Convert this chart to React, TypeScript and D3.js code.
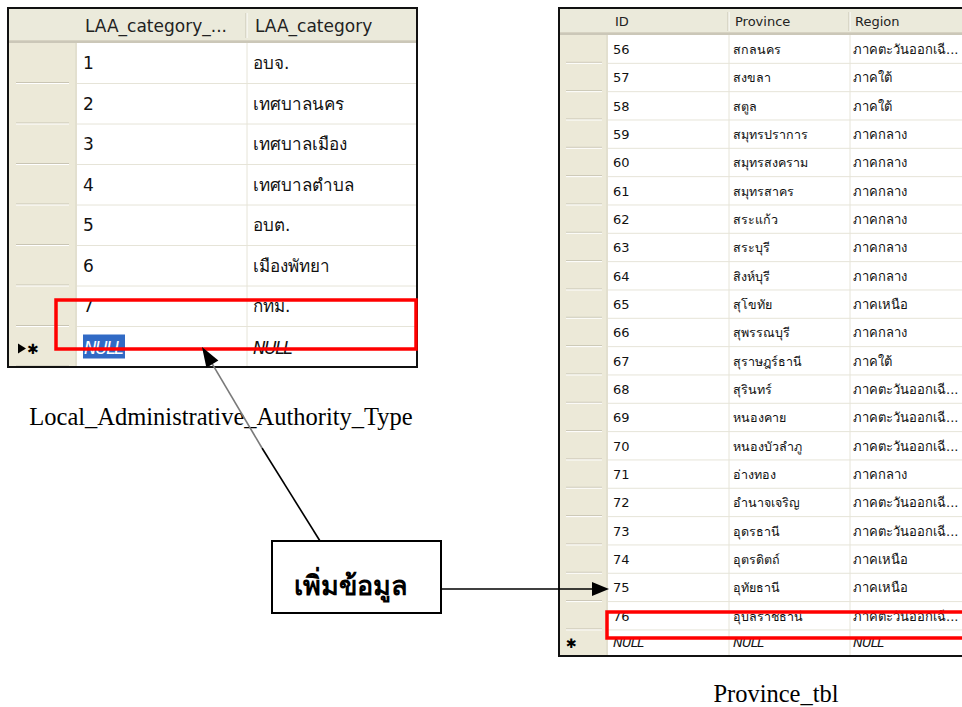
import * as d3 from "d3";

// left table: Local_Administrative_Authority_Type
const laaHeaders = ["LAA_category_...", "LAA_category"];
const laaIds = ["1", "2", "3", "4", "5", "6", "7"];
const laaNames = ["อบจ.", "เทศบาลนคร", "เทศบาลเมือง", "เทศบาลตำบล", "อบต.", "เมืองพัทยา", "กทม."];

// right table: Province_tbl
const provHeaders = ["ID", "Province", "Region"];
const provIds = ["56", "57", "58", "59", "60", "61", "62", "63", "64", "65", "66",
  "67", "68", "69", "70", "71", "72", "73", "74", "75", "76"];
const provNames = ["สกลนคร", "สงขลา", "สตูล", "สมุทรปราการ", "สมุทรสงคราม", "สมุทรสาคร",
  "สระแก้ว", "สระบุรี", "สิงห์บุรี", "สุโขทัย", "สุพรรณบุรี", "สุราษฎร์ธานี", "สุรินทร์",
  "หนองคาย", "หนองบัวลำภู", "อ่างทอง", "อำนาจเจริญ", "อุดรธานี", "อุตรดิตถ์", "อุทัยธานี",
  "อุบลราชธานี"];
const NE = "ภาคตะวันออกเฉี...";
const provRegions = [NE, "ภาคใต้", "ภาคใต้", "ภาคกลาง", "ภาคกลาง", "ภาคกลาง", "ภาคกลาง",
  "ภาคกลาง", "ภาคกลาง", "ภาคเหนือ", "ภาคกลาง", "ภาคใต้", NE, NE, NE, "ภาคกลาง", NE, NE,
  "ภาคเหนือ", "ภาคเหนือ", NE];

const leftCaption = "Local_Administrative_Authority_Type";
const rightCaption = "Province_tbl";
const boxLabel = "เพิ่มข้อมูล";

const UI = "Tahoma, 'DejaVu Sans', sans-serif";
const SERIF = "'Liberation Serif', 'Times New Roman', serif";
const HEAD_BG = "#EBEADB";
const ROWHEAD_BG = "#ECE9D8";
const GRID = "#E6E4D8";

function arrowHead(tip: [number, number], from: [number, number], len = 20, half = 7) {
  const dx = tip[0] - from[0], dy = tip[1] - from[1];
  const l = Math.hypot(dx, dy);
  const ux = dx / l, uy = dy / l;
  const bx = tip[0] - ux * len, by = tip[1] - uy * len;
  const p = d3.path();
  p.moveTo(tip[0], tip[1]);
  p.lineTo(bx - uy * half, by + ux * half);
  p.lineTo(bx + uy * half, by - ux * half);
  p.closePath();
  return p.toString();
}

function LeftTable() {
  const x0 = 8, x1 = 417, y0 = 8, headB = 43, yEnd = 367;
  const rowHeadR = 77, colDiv = 247;
  const rows = d3.scaleBand<number>().domain(d3.range(laaIds.length + 1)).range([headB, yEnd]);
  const bw = rows.bandwidth();
  return (
    <g>
      <rect x={x0} y={y0} width={x1 - x0} height={yEnd - y0} fill="#fff" />
      <rect x={x0} y={y0} width={x1 - x0} height={headB - y0} fill={HEAD_BG} />
      <line x1={x0} x2={x1} y1={headB - 2.5} y2={headB - 2.5} stroke="#D6D2C2" strokeWidth={1} />
      <line x1={x0} x2={x1} y1={headB - 1} y2={headB - 1} stroke="#CBC7B8" strokeWidth={2} />
      <rect x={x0} y={headB} width={rowHeadR - x0} height={yEnd - headB} fill={ROWHEAD_BG} />
      <line x1={rowHeadR - 1} x2={rowHeadR - 1} y1={headB} y2={yEnd} stroke="#D9D6C6" />
      <line x1={colDiv - 1} x2={colDiv - 1} y1={13} y2={38} stroke="#C7C5B2" />
      <line x1={colDiv} x2={colDiv} y1={13} y2={38} stroke="#fff" />
      <line x1={colDiv} x2={colDiv} y1={headB} y2={yEnd} stroke={GRID} />
      {rows.domain().map((i) => {
        const yb = (rows(i) as number) + bw;
        return (
          <g key={i}>
            <line x1={rowHeadR} x2={x1} y1={yb} y2={yb} stroke={GRID} />
            <line x1={16} x2={69} y1={yb - 1} y2={yb - 1} stroke="#C9C5B4" />
            <line x1={16} x2={69} y1={yb} y2={yb} stroke="#fff" />
          </g>
        );
      })}
      <text x={85} y={32} fontFamily={UI} fontSize={17} fill="#222">{laaHeaders[0]}</text>
      <text x={255} y={32} fontFamily={UI} fontSize={17} fill="#222">{laaHeaders[1]}</text>
      {laaIds.map((id, i) => {
        const yc = (rows(i) as number) + bw / 2 + 6;
        return (
          <g key={id}>
            <text x={83} y={yc} fontFamily={UI} fontSize={17} fill="#111">{id}</text>
            <text x={253} y={yc} fontFamily={UI} fontSize={17} fill="#111">{laaNames[i]}</text>
          </g>
        );
      })}
      {(() => {
        const i = laaIds.length;
        const yt = rows(i) as number;
        return (
          <g>
            <rect x={83} y={yt + 8} width={42} height={24} fill="#316AC5" />
            <text x={84} y={yt + 27} fontFamily={UI} fontSize={17} fontStyle="italic" letterSpacing={-1.5} fill="#fff">NULL</text>
            <text x={253} y={yt + 27} fontFamily={UI} fontSize={17} fontStyle="italic" letterSpacing={-1.5} fill="#111">NULL</text>
            <path d={arrowHead([26, yt + 22], [17, yt + 22], 8, 5)} fill="#000" />
            <text x={27} y={yt + 27} fontFamily="'DejaVu Sans', sans-serif" fontSize={14} fontWeight="bold" fill="#000">✱</text>
          </g>
        );
      })()}
      <rect x={x0} y={y0} width={x1 - x0} height={yEnd - y0} fill="none" stroke="#111" strokeWidth={2} />
      <rect x={56} y={300} width={360} height={49} fill="none" stroke="#FF0000" strokeWidth={3.5} />
    </g>
  );
}

function RightTable() {
  const x0 = 559, x1 = 975, y0 = 8, headB = 35, yEnd = 656;
  const rowHeadR = 608;
  const colX = [729, 850];
  const n = provIds.length + 1;
  const rows = d3.scaleBand<number>().domain(d3.range(n)).range([headB, headB + n * 28.33]);
  const bw = rows.bandwidth();
  const textX = [613, 733, 853];
  return (
    <g>
      <defs>
        <clipPath id="rclip">
          <rect x={x0} y={y0} width={x1 - x0} height={yEnd - y0} />
        </clipPath>
      </defs>
      <g clipPath="url(#rclip)">
        <rect x={x0} y={y0} width={x1 - x0} height={yEnd - y0} fill="#fff" />
        <rect x={x0} y={y0} width={x1 - x0} height={headB - y0} fill={HEAD_BG} />
        <line x1={x0} x2={x1} y1={headB - 2.5} y2={headB - 2.5} stroke="#D6D2C2" />
        <line x1={x0} x2={x1} y1={headB - 1} y2={headB - 1} stroke="#CBC7B8" strokeWidth={2} />
        <rect x={x0} y={headB} width={rowHeadR - x0} height={yEnd - headB} fill={ROWHEAD_BG} />
        <line x1={rowHeadR - 1} x2={rowHeadR - 1} y1={headB} y2={yEnd} stroke="#D9D6C6" />
        {colX.map((cx) => (
          <g key={cx}>
            <line x1={cx - 1} x2={cx - 1} y1={12} y2={31} stroke="#C7C5B2" />
            <line x1={cx} x2={cx} y1={12} y2={31} stroke="#fff" />
            <line x1={cx} x2={cx} y1={headB} y2={yEnd} stroke={GRID} />
          </g>
        ))}
        {rows.domain().map((i) => {
          const yb = (rows(i) as number) + bw;
          return (
            <g key={i}>
              <line x1={rowHeadR} x2={x1} y1={yb} y2={yb} stroke={GRID} />
              <line x1={566} x2={602} y1={yb - 1} y2={yb - 1} stroke="#C9C5B4" />
              <line x1={566} x2={602} y1={yb} y2={yb} stroke="#fff" />
            </g>
          );
        })}
        {provHeaders.map((h, k) => (
          <text key={h} x={textX[k] + 2} y={26} fontFamily={UI} fontSize={13} fill="#222">{h}</text>
        ))}
        {provIds.map((id, i) => {
          const yc = (rows(i) as number) + bw / 2 + 5;
          return (
            <g key={id}>
              <text x={textX[0]} y={yc} fontFamily={UI} fontSize={13} fill="#111">{id}</text>
              <text x={textX[1]} y={yc} fontFamily={UI} fontSize={12.5} fill="#111">{provNames[i]}</text>
              <text x={textX[2]} y={yc} fontFamily={UI} fontSize={13} fill="#111">{provRegions[i]}</text>
            </g>
          );
        })}
        {(() => {
          const yc = (rows(n - 1) as number) + bw / 2 + 3;
          return (
            <g>
              {textX.map((tx) => (
                <text key={tx} x={tx} y={yc} fontFamily={UI} fontSize={13} fontStyle="italic" letterSpacing={-0.8} fill="#111">NULL</text>
              ))}
              <text x={566} y={yc + 1} fontFamily="'DejaVu Sans', sans-serif" fontSize={13} fill="#000">✱</text>
            </g>
          );
        })()}
      </g>
      <path d={`M${x1},${y0}H${x0}V${yEnd}H${x1}`} fill="none" stroke="#111" strokeWidth={2} />
      <rect x={607} y={612} width={370} height={26} fill="none" stroke="#FF0000" strokeWidth={3.5} />
    </g>
  );
}

export default function App() {
  const box = { x: 272, y: 541, w: 169, h: 72 };
  const tip1: [number, number] = [202, 347];
  const start1: [number, number] = [320, box.y];
  const mid1: [number, number] = [262, 448];
  const tip2: [number, number] = [609, 589];
  const start2: [number, number] = [box.x + box.w, 589];
  const dir = [tip1[0] - start1[0], tip1[1] - start1[1]];
  const len = Math.hypot(dir[0], dir[1]);
  const base1: [number, number] = [tip1[0] - (dir[0] / len) * 18, tip1[1] - (dir[1] / len) * 18];
  return (
    <svg width={962} height={707} style={{ position: "absolute", left: 0, top: 0, display: "block" }}>
      <rect width={962} height={707} fill="#fff" />
      <LeftTable />
      <RightTable />

      <text x={221} y={425} textAnchor="middle" fontFamily={SERIF} fontSize={24.5} fill="#000">{leftCaption}</text>
      <text x={776} y={702} textAnchor="middle" fontFamily={SERIF} fontSize={24.5} fill="#000">{rightCaption}</text>

      <rect x={box.x} y={box.y} width={box.w} height={box.h} fill="#fff" stroke="#000" strokeWidth={2} />
      <text x={box.x + box.w / 2 - 6} y={595} textAnchor="middle" fontFamily={SERIF} fontSize={27} fontWeight="bold" fill="#000">{boxLabel}</text>

      <line x1={start1[0]} y1={start1[1]} x2={mid1[0]} y2={mid1[1]} stroke="#000" strokeWidth={1.6} />
      <line x1={mid1[0]} y1={mid1[1]} x2={base1[0]} y2={base1[1]} stroke="#7a7a7a" strokeWidth={1.6} />
      <path d={arrowHead(tip1, start1, 20, 7)} fill="#000" />

      <line x1={start2[0]} y1={start2[1]} x2={tip2[0] - 16} y2={tip2[1]} stroke="#000" strokeWidth={1.6} />
      <path d={arrowHead(tip2, start2, 17, 7)} fill="#000" />
    </svg>
  );
}
